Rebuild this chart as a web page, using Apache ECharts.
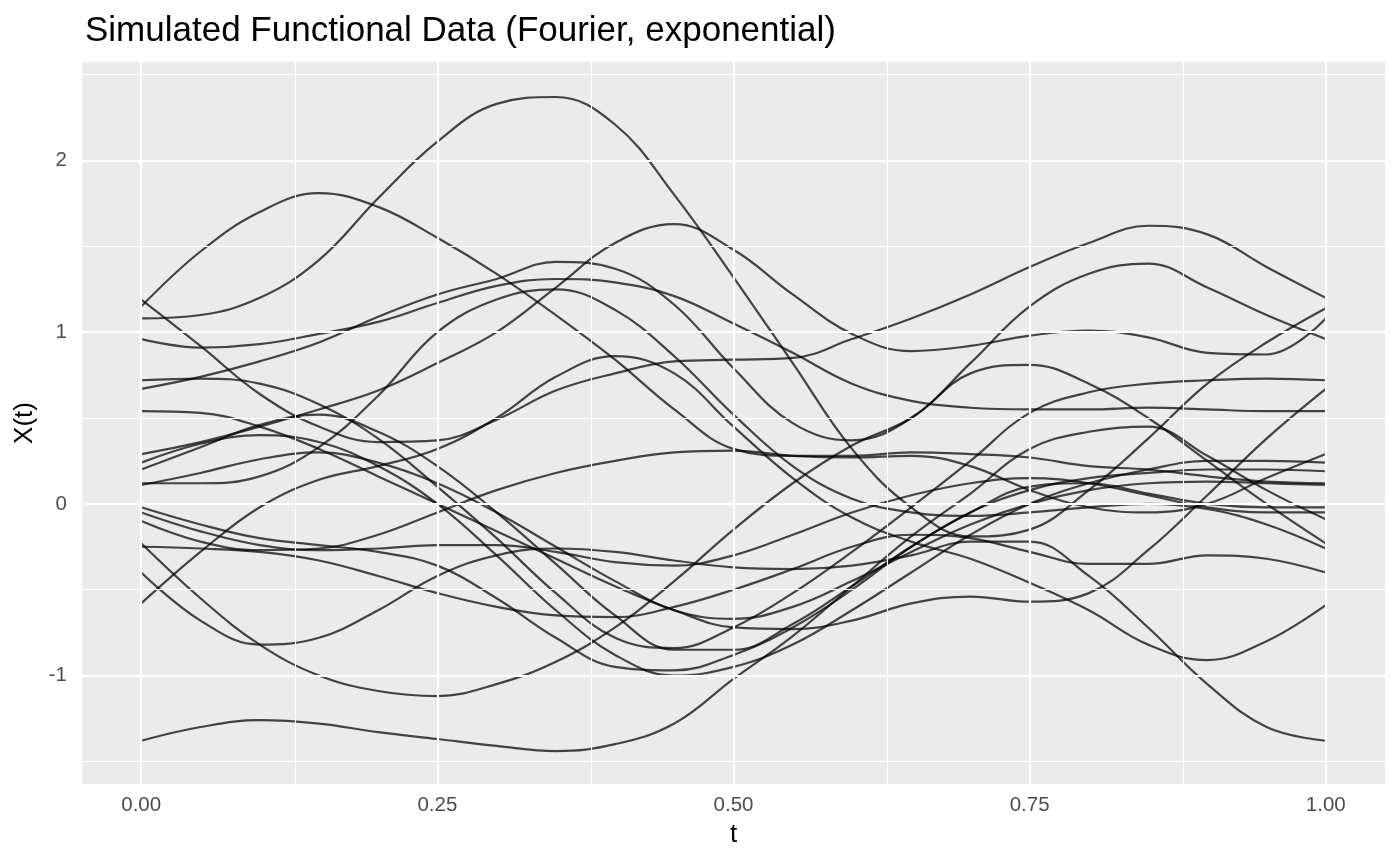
<!DOCTYPE html>
<html>
<head>
<meta charset="utf-8">
<script src="https://cdn.jsdelivr.net/npm/echarts@6/dist/echarts.min.js"></script>
<style>
html,body{margin:0;padding:0;background:#fff;}
#chart{width:1400px;height:866px;}
</style>
</head>
<body>
<div id="chart"></div>
<script>
const tValues = [0,0.05,0.1,0.15,0.2,0.25,0.3,0.35,0.4,0.45,0.5,0.55,0.6,0.65,0.7,0.75,0.8,0.85,0.9,0.95,1];
const xTicks = [0,0.25,0.5,0.75,1];
const xMinor = [0.125,0.375,0.625,0.875];
const yTicks = [-1,0,1,2];
const yMinor = [-1.5,-0.5,0.5,1.5,2.5];

const curve01 = [1.08,1.10,1.20,1.42,1.78,2.11,2.33,2.37,2.21,1.80,1.32,0.82,0.32,-0.02,-0.19,-0.15,0.08,0.38,0.70,0.94,1.14];
const curve02 = [1.15,1.47,1.70,1.81,1.73,1.55,1.34,1.10,0.84,0.55,0.32,0.28,0.28,0.30,0.29,0.27,0.22,0.20,0.16,0.13,0.12];
const curve03 = [1.19,0.92,0.64,0.45,0.36,0.37,0.49,0.66,0.76,0.83,0.84,0.85,0.96,1.08,1.22,1.38,1.52,1.62,1.57,1.38,1.20];
const curve04 = [0.96,0.91,0.93,0.99,1.06,1.17,1.27,1.31,1.29,1.21,1.05,0.88,0.70,0.60,0.56,0.55,0.55,0.56,0.55,0.54,0.54];
const curve05 = [0.67,0.74,0.83,0.94,1.09,1.22,1.31,1.41,1.37,1.16,0.79,0.47,0.37,0.50,0.82,1.15,1.34,1.40,1.26,1.10,0.96];
const curve06 = [0.72,0.73,0.70,0.58,0.38,0.10,-0.20,-0.52,-0.78,-0.84,-0.72,-0.52,-0.28,-0.02,0.25,0.53,0.65,0.70,0.72,0.73,0.72];
const curve07 = [0.29,0.36,0.45,0.55,0.66,0.82,1.00,1.26,1.52,1.63,1.48,1.22,0.99,0.89,0.92,0.98,1.01,0.97,0.88,0.87,1.08];
const curve08 = [0.12,0.12,0.16,0.33,0.63,1.00,1.19,1.25,1.13,0.86,0.52,0.22,0.03,-0.05,-0.07,-0.05,-0.02,0.00,-0.03,-0.12,-0.26];
const curve09 = [-0.10,-0.22,-0.27,-0.26,-0.18,-0.05,0.08,0.18,0.25,0.30,0.31,0.28,0.27,0.28,0.22,0.08,-0.02,-0.05,0.00,0.15,0.29];
const curve10 = [0.54,0.53,0.45,0.32,0.16,0.00,-0.16,-0.32,-0.48,-0.62,-0.72,-0.73,-0.68,-0.58,-0.54,-0.57,-0.52,-0.27,0.05,0.38,0.67];
const curve11 = [-0.40,-0.68,-0.82,-0.78,-0.62,-0.42,-0.30,-0.26,-0.28,-0.33,-0.37,-0.38,-0.36,-0.30,-0.22,-0.22,-0.42,-0.72,-1.05,-1.30,-1.38];
const curve12 = [-0.23,-0.55,-0.82,-1.00,-1.09,-1.12,-1.05,-0.92,-0.72,-0.45,-0.15,0.12,0.34,0.50,0.76,0.81,0.70,0.50,0.25,0.00,-0.23];
const curve13 = [-1.38,-1.30,-1.26,-1.28,-1.33,-1.37,-1.41,-1.44,-1.40,-1.28,-1.02,-0.77,-0.48,-0.19,0.06,0.32,0.42,0.45,0.28,0.08,-0.09];
const curve14 = [-0.58,-0.28,-0.02,0.14,0.22,0.32,0.50,0.74,0.86,0.76,0.45,0.15,-0.08,-0.22,-0.32,-0.46,-0.62,-0.82,-0.91,-0.80,-0.59];
const curve15 = [0.24,0.35,0.40,0.36,0.22,0.00,-0.30,-0.62,-0.88,-1.00,-0.95,-0.82,-0.62,-0.40,-0.18,0.00,0.12,0.20,0.25,0.25,0.24];
const curve16 = [0.20,0.33,0.46,0.52,0.42,0.22,-0.05,-0.35,-0.65,-0.85,-0.85,-0.70,-0.48,-0.25,-0.05,0.08,0.15,0.18,0.20,0.20,0.19];
const curve17 = [0.11,0.18,0.26,0.30,0.24,0.12,-0.05,-0.25,-0.45,-0.62,-0.67,-0.60,-0.45,-0.28,-0.12,0.00,0.08,0.12,0.13,0.12,0.11];
const curve18 = [-0.02,-0.12,-0.20,-0.24,-0.28,-0.36,-0.55,-0.78,-0.95,-0.97,-0.88,-0.72,-0.50,-0.25,-0.05,0.10,0.12,0.06,0.00,-0.02,-0.02];
const curve19 = [-0.05,-0.16,-0.24,-0.27,-0.26,-0.24,-0.24,-0.28,-0.34,-0.36,-0.30,-0.18,-0.05,0.05,0.12,0.15,0.12,0.05,-0.02,-0.05,-0.05];
const curve20 = [-0.25,-0.26,-0.28,-0.33,-0.42,-0.52,-0.60,-0.65,-0.66,-0.60,-0.50,-0.38,-0.25,-0.18,-0.20,-0.28,-0.35,-0.35,-0.30,-0.32,-0.40];

const curves = [curve01,curve02,curve03,curve04,curve05,curve06,curve07,curve08,curve09,curve10,
                curve11,curve12,curve13,curve14,curve15,curve16,curve17,curve18,curve19,curve20];

const chart = echarts.init(document.getElementById('chart'), null, {renderer:'canvas'});
const FONT = 'Liberation Sans, Arial, Helvetica, sans-serif';

const gridSeries = {
  type:'line', data:[], silent:true, z:1,
  markLine:{
    silent:true, symbol:['none','none'], animation:false,
    label:{show:false},
    data: [
      ...xMinor.map(v=>({xAxis:v, lineStyle:{color:'#ffffff',width:1.1,type:'solid'}})),
      ...yMinor.map(v=>({yAxis:v, lineStyle:{color:'#ffffff',width:1.1,type:'solid'}})),
      ...xTicks.map(v=>({xAxis:v, lineStyle:{color:'#ffffff',width:2.2,type:'solid'}})),
      ...yTicks.map(v=>({yAxis:v, lineStyle:{color:'#ffffff',width:2.2,type:'solid'}}))
    ]
  }
};

const dataSeries = curves.map((c,i)=>({
  type:'line', name:'curve'+(i+1), z:2,
  data: tValues.map((t,j)=>[t,c[j]]),
  smooth:0.4, showSymbol:false, symbol:'none',
  lineStyle:{color:'rgba(0,0,0,0.72)', width:2.2},
  emphasis:{disabled:true}
}));

chart.setOption({
  animation:false,
  backgroundColor:'#ffffff',
  title:{
    text:'Simulated Functional Data (Fourier, exponential)',
    left:80, top:9,
    textStyle:{fontFamily:FONT, fontSize:35, fontWeight:'normal', color:'#000'}
  },
  grid:{left:82, right:15, top:62, bottom:82, show:true, backgroundColor:'#EBEBEB', borderWidth:0, containLabel:false},
  xAxis:{
    type:'value', min:-0.05, max:1.05,
    name:'t', nameLocation:'middle', nameGap:38,
    nameTextStyle:{fontFamily:FONT, fontSize:26, color:'#000'},
    axisLine:{show:false},
    axisTick:{show:true, customValues:xTicks, length:5, lineStyle:{color:'#333333', width:2}},
    axisLabel:{customValues:xTicks, margin:11, fontFamily:FONT, fontSize:20.5, color:'#4D4D4D',
      formatter:v=>v.toFixed(2)},
    splitLine:{show:false}
  },
  yAxis:{
    type:'value', min:-1.632, max:2.574,
    name:'X(t)', nameLocation:'middle', nameGap:41, nameRotate:90,
    nameTextStyle:{fontFamily:FONT, fontSize:26, color:'#000'},
    axisLine:{show:false},
    axisTick:{show:true, customValues:yTicks, length:5, lineStyle:{color:'#333333', width:2}},
    axisLabel:{customValues:yTicks, margin:15, fontFamily:FONT, fontSize:20.5, color:'#4D4D4D',
      formatter:v=>String(v)},
    splitLine:{show:false}
  },
  series:[gridSeries, ...dataSeries]
});
</script>
</body>
</html>
